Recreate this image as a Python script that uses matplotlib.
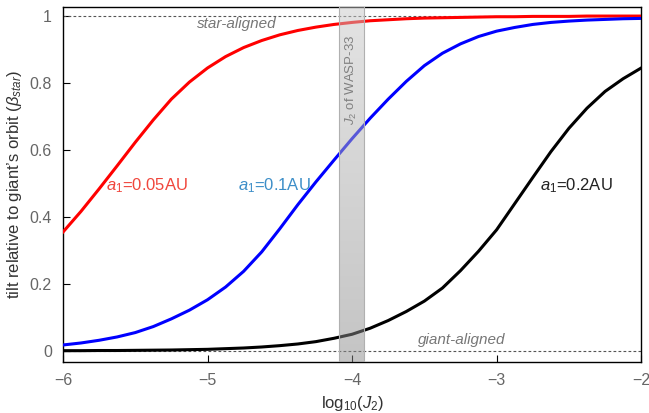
import numpy as np
import matplotlib
matplotlib.use("Agg")
import matplotlib.pyplot as plt

plt.rcParams['font.family'] = ['Liberation Sans', 'DejaVu Sans']
plt.rcParams['mathtext.fontset'] = 'custom'
plt.rcParams['mathtext.rm'] = 'Liberation Sans'
plt.rcParams['mathtext.it'] = 'Liberation Sans:italic'

# log10(J2) sample points
logJ2 = [-6.0, -5.875, -5.75, -5.625, -5.5, -5.375, -5.25, -5.125, -5.0,
         -4.875, -4.75, -4.625, -4.5, -4.375, -4.25, -4.125, -4.0,
         -3.875, -3.75, -3.625, -3.5, -3.375, -3.25, -3.125, -3.0,
         -2.875, -2.75, -2.625, -2.5, -2.375, -2.25, -2.125, -2.0]

# tilt for each orbital distance
tilt_005 = [0.355, 0.417, 0.484, 0.553, 0.623, 0.69, 0.752, 0.803, 0.845,
            0.879, 0.906, 0.927, 0.944, 0.957, 0.967, 0.975, 0.981,
            0.986, 0.989, 0.992, 0.994, 0.995, 0.996, 0.997, 0.998,
            0.998, 0.999, 0.999, 0.999, 1.0, 1.0, 1.0, 1.0]
tilt_01 = [0.018, 0.024, 0.032, 0.042, 0.055, 0.073, 0.096, 0.122, 0.153,
           0.191, 0.238, 0.296, 0.365, 0.437, 0.505, 0.57, 0.634,
           0.695, 0.752, 0.805, 0.852, 0.889, 0.917, 0.939, 0.955,
           0.966, 0.975, 0.981, 0.985, 0.988, 0.99, 0.992, 0.993]
tilt_02 = [0.001, 0.001, 0.0015, 0.0015, 0.002, 0.0025, 0.003, 0.004, 0.005,
           0.007, 0.009, 0.012, 0.016, 0.021, 0.028, 0.038, 0.05,
           0.068, 0.091, 0.118, 0.149, 0.188, 0.24, 0.298, 0.362,
           0.44, 0.518, 0.595, 0.665, 0.725, 0.775, 0.813, 0.845]

curve_labels = ['$a_1$=0.05AU', '$a_1$=0.1AU', '$a_1$=0.2AU']
wasp33_band = [-4.09, -3.92]

fig = plt.figure(figsize=(6.49, 4.13), dpi=100)
ax = fig.add_axes([0.097, 0.1235, 0.891, 0.8595])

ax.plot(logJ2, tilt_005, color='#ff0000', lw=2.2, zorder=3)
ax.plot(logJ2, tilt_01, color='#0000ff', lw=2.2, zorder=3)
ax.plot(logJ2, tilt_02, color='#000000', lw=2.2, zorder=3)

# dashed reference lines
ax.axhline(1, color='#555555', lw=0.8, ls=(0, (2.5, 2)), zorder=2)
ax.axhline(0, color='#555555', lw=0.8, ls=(0, (2.5, 2)), zorder=2)

# shaded band with a soft vertical gradient, drawn over the lines
grad = np.linspace(0.78, 0.54, 100).reshape(-1, 1)
ax.imshow(grad, cmap='gray', vmin=0, vmax=1, alpha=0.5, aspect='auto',
          extent=[wasp33_band[0], wasp33_band[1], -0.0328, 1.027],
          origin='upper', zorder=4, interpolation='bilinear')
ax.axvline(wasp33_band[0], color='#b0b0b0', lw=0.8, zorder=4)
ax.axvline(wasp33_band[1], color='#b0b0b0', lw=0.8, zorder=4)
ax.text(-4.005, 0.81, '$J_2$ of WASP-33', rotation=90, ha='center', va='center',
        color='#808080', fontsize=9.5, zorder=5)

ax.text(-5.42, 0.495, curve_labels[0], color='#f0463c', fontsize=12,
        ha='center', va='center')
ax.text(-4.54, 0.495, curve_labels[1], color='#3c8ec8', fontsize=12,
        ha='center', va='center')
ax.text(-2.70, 0.495, curve_labels[2], color='#222222', fontsize=12,
        ha='left', va='center')

ax.text(-4.80, 0.976, 'star-aligned', style='italic', color='#777777',
        fontsize=11, ha='center', va='center')
ax.text(-3.245, 0.032, 'giant-aligned', style='italic', color='#777777',
        fontsize=11, ha='center', va='center')

ax.set_xlim(-6, -2)
ax.set_ylim(-0.0328, 1.027)
ax.set_xticks([-6, -5, -4, -3, -2])
ax.set_xticklabels(['\u22126', '\u22125', '\u22124', '\u22123', '\u22122'])
ax.set_yticks([0, 0.2, 0.4, 0.6, 0.8, 1])
ax.set_yticklabels(['0', '0.2', '0.4', '0.6', '0.8', '1'])
ax.tick_params(direction='in', length=5, width=0.8, labelsize=11.5,
               labelcolor='#666666', pad=8)
for s in ax.spines.values():
    s.set_linewidth(1.0)
    s.set_color('#000000')

ax.set_xlabel('log$_{10}$($J_2$)', fontsize=12, color='#333333')
ax.set_ylabel(r'tilt relative to giant’s orbit ($\beta_{star}$)', fontsize=12,
              color='#333333')

fig.savefig('out.png', dpi=100)
